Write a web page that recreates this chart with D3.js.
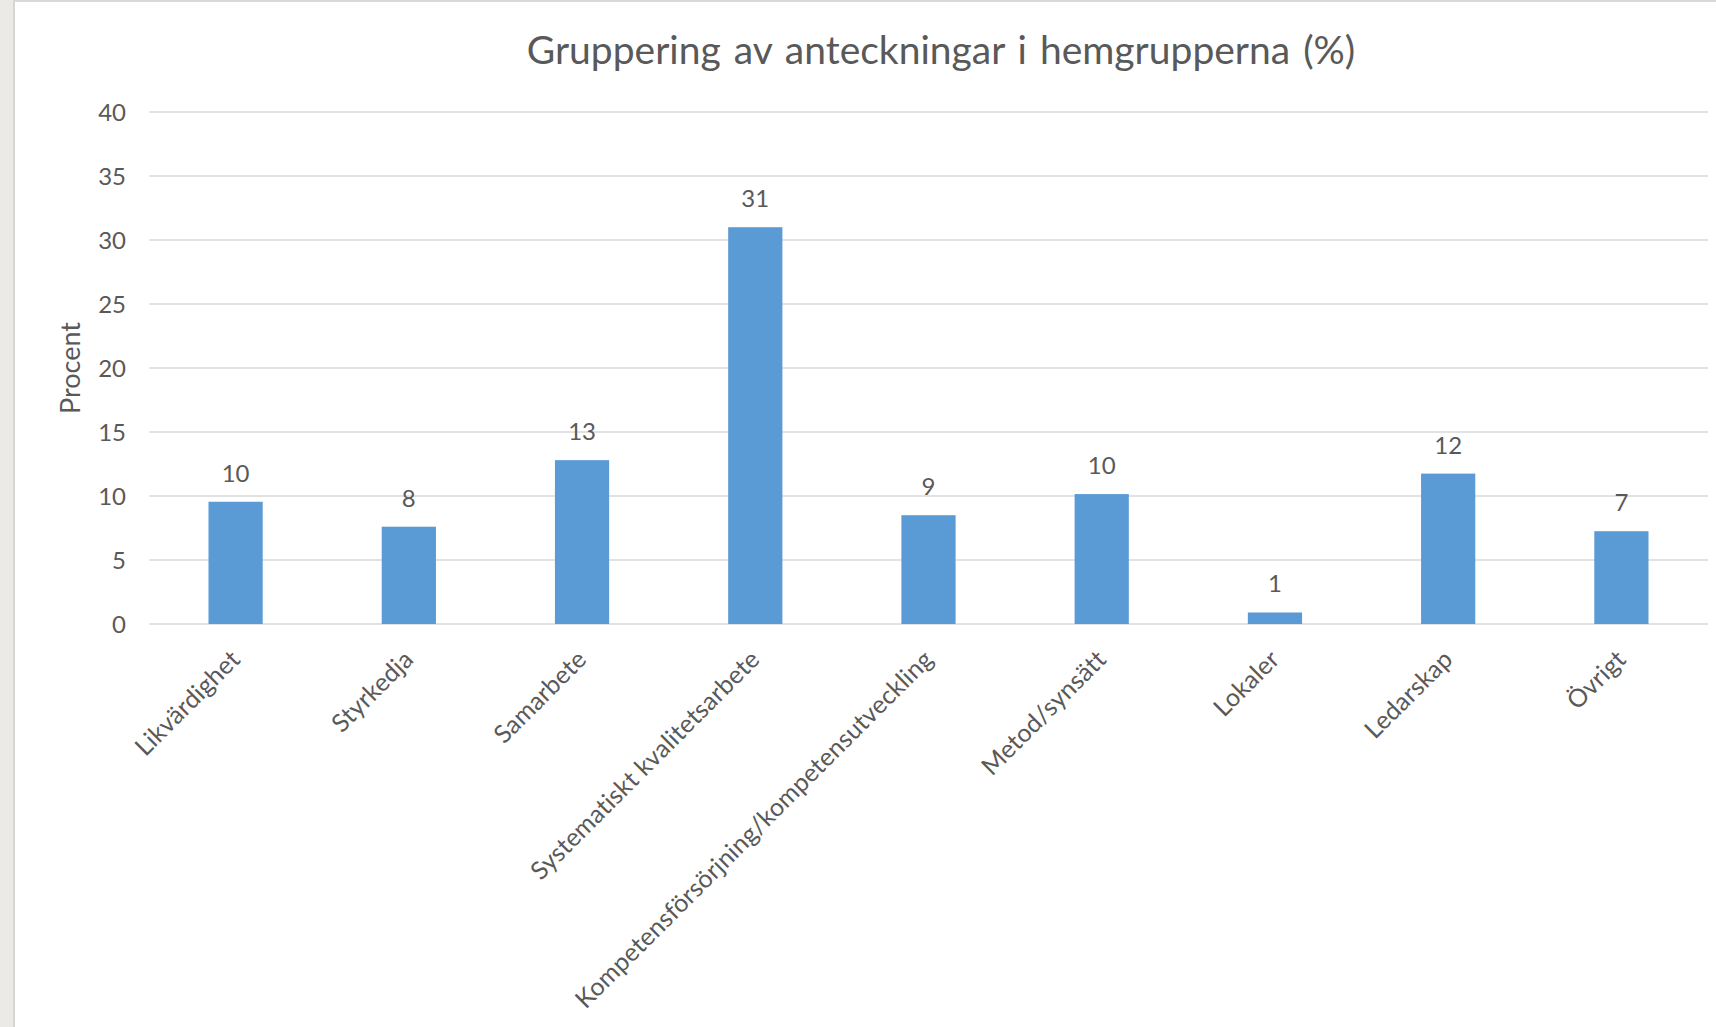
<!DOCTYPE html>
<html>
<head>
<meta charset="utf-8">
<title>Gruppering av anteckningar i hemgrupperna (%)</title>
<script src="https://cdn.jsdelivr.net/npm/d3@7"></script>
<style>
  html, body { margin: 0; padding: 0; background: #fff; }
  svg { display: block; }
  text { font-family: Lato, "Open Sans", sans-serif; fill: #595959; }
</style>
</head>
<body>
<div id="chart"></div>
<script>
const categories = ['Likvärdighet', 'Styrkedja', 'Samarbete', 'Systematiskt kvalitetsarbete',
  'Kompetensförsörjning/kompetensutveckling', 'Metod/synsätt', 'Lokaler', 'Ledarskap', 'Övrigt'];
const percent = [9.55, 7.6, 12.8, 31.0, 8.5, 10.15, 0.9, 11.75, 7.25];
const yTicks = [0, 5, 10, 15, 20, 25, 30, 35, 40];
const title = 'Gruppering av anteckningar i hemgrupperna (%)';
const yTitle = 'Procent';

const w = 1716;
const h = 1027;
const plot = { left: 149, right: 1708, top: 112, bottom: 624 };

const svg = d3.select('#chart')
  .append('svg')
  .attr('width', w)
  .attr('height', h);

// window frame: grey strip on the left, thin border
svg.append('rect').attr('x', 0).attr('y', 0).attr('width', 13).attr('height', h).attr('fill', '#ebeae6');
svg.append('rect').attr('x', 13).attr('y', 0).attr('width', 2).attr('height', h).attr('fill', '#d6d6d6');
svg.append('rect').attr('x', 13).attr('y', 0).attr('width', w - 13).attr('height', 2).attr('fill', '#d9d9d9');

const x = d3.scaleBand()
  .domain(categories)
  .range([plot.left, plot.right])
  .paddingInner(0.687)
  .paddingOuter(0.3435);

const y = d3.scaleLinear()
  .domain([0, 40])
  .range([plot.bottom, plot.top]);

// gridlines
svg.append('g')
  .selectAll('line')
  .data(yTicks)
  .enter()
  .append('line')
  .attr('x1', plot.left)
  .attr('x2', plot.right)
  .attr('y1', d => y(d))
  .attr('y2', d => y(d))
  .attr('stroke', '#d9d9d9')
  .attr('stroke-width', 1.5);

// y tick labels
svg.append('g')
  .selectAll('text')
  .data(yTicks)
  .enter()
  .append('text')
  .attr('x', 126)
  .attr('y', d => y(d))
  .attr('dy', '0.36em')
  .attr('text-anchor', 'end')
  .style('font-size', '24px')
  .text(d => d);

// bars
svg.append('g')
  .selectAll('rect')
  .data(categories)
  .enter()
  .append('rect')
  .attr('x', d => x(d))
  .attr('y', (d, i) => y(percent[i]))
  .attr('width', x.bandwidth())
  .attr('height', (d, i) => y(0) - y(percent[i]))
  .attr('fill', '#5b9bd5');

// value labels
svg.append('g')
  .selectAll('text')
  .data(categories)
  .enter()
  .append('text')
  .attr('x', d => x(d) + x.bandwidth() / 2)
  .attr('y', (d, i) => y(percent[i]) - 20)
  .attr('text-anchor', 'middle')
  .style('font-size', '24px')
  .text((d, i) => d3.format('.0f')(percent[i]));

// category labels, rotated
svg.append('g')
  .selectAll('text')
  .data(categories)
  .enter()
  .append('text')
  .attr('transform', d => `translate(${x(d) + x.bandwidth() / 2 + 6}, ${plot.bottom + 37}) rotate(-45)`)
  .attr('text-anchor', 'end')
  .style('font-size', '25px')
  .style('letter-spacing', '0.15px')
  .text(d => d);

// y axis title
svg.append('text')
  .attr('transform', `translate(80, ${(plot.top + plot.bottom) / 2}) rotate(-90)`)
  .attr('text-anchor', 'middle')
  .style('font-size', '27px')
  .text(yTitle);

// chart title
svg.append('text')
  .attr('x', 941)
  .attr('y', 64)
  .attr('text-anchor', 'middle')
  .style('font-size', '39px')
  .style('word-spacing', '3px')
  .text(title);
</script>
</body>
</html>
